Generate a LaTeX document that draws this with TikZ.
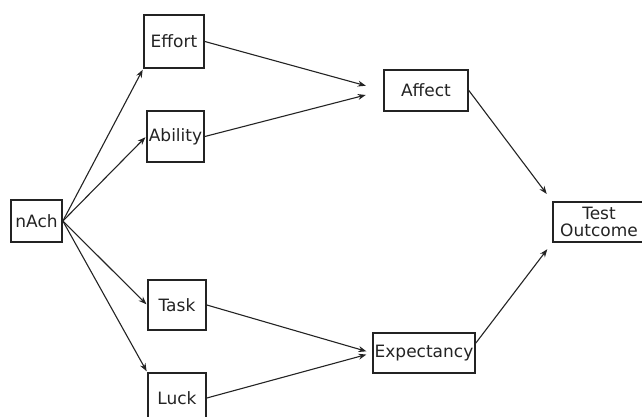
\documentclass[tikz,border=0pt]{standalone}
\usepackage{fontspec}
\setmainfont{DejaVu Sans}
\usetikzlibrary{arrows.meta, positioning, calc}
\definecolor{inkdark}{RGB}{35,35,35}
\tikzset{
  varbox/.style={rectangle, draw=inkdark, line width=1.7pt, inner sep=0.5pt,
    align=center, text=inkdark, font=\fontsize{17}{17.5}\selectfont},
  arrow/.style={-{Stealth[length=8pt, width=6pt]}, line width=1.1pt, color=inkdark}
}

\begin{document}
\begin{tikzpicture}[x=1pt, y=-1pt]
  \useasboundingbox (0,0) rectangle (642,417);

  % Boxes
  \node[varbox, minimum width=51pt, minimum height=42pt] (nach) at (36.5,221) {nAch};
  \node[varbox, minimum width=60pt, minimum height=53pt] (effort) at (174,41.5) {Effort};
  \node[varbox, minimum width=57pt, minimum height=51pt] (ability) at (175.5,136.5) {Ability};
  \node[varbox, minimum width=58pt, minimum height=50pt] (task) at (177,305) {Task};
  \node[varbox, minimum width=58pt, minimum height=50pt] (luck) at (177,398) {Luck};
  \node[varbox, minimum width=84pt, minimum height=41pt] (affect) at (426,90.5) {Affect};
  \node[varbox, minimum width=102pt, minimum height=40pt] (expectancy) at (424,353) {Expectancy};
  \node[varbox, minimum width=92pt, minimum height=40pt] (test) at (599,222) {Test\\Outcome};

  % Arrows from nAch
  \draw[arrow, shorten >=1pt] (nach.east) -- (effort.south west);
  \draw[arrow, shorten >=1pt] (nach.east) -- (ability.west);
  \draw[arrow, shorten >=1pt] (nach.east) -- (task.west);
  \draw[arrow, shorten >=1pt] (nach.east) -- (luck.north west);

  % Arrows to Affect and Expectancy
  \draw[arrow, shorten >=18pt] (effort.east) -- (affect.west);
  \draw[arrow, shorten >=18pt] (ability.east) -- (affect.west);
  \draw[arrow, shorten >=6pt] (task.east) -- (expectancy.west);
  \draw[arrow, shorten >=6pt] (luck.east) -- (expectancy.west);

  % Arrows to Test Outcome
  \draw[arrow, shorten >=9pt] (affect.east) -- (test.north west);
  \draw[arrow, shorten >=8pt] ([yshift=10pt]expectancy.east) -- (test.south west);
\end{tikzpicture}
\end{document}
